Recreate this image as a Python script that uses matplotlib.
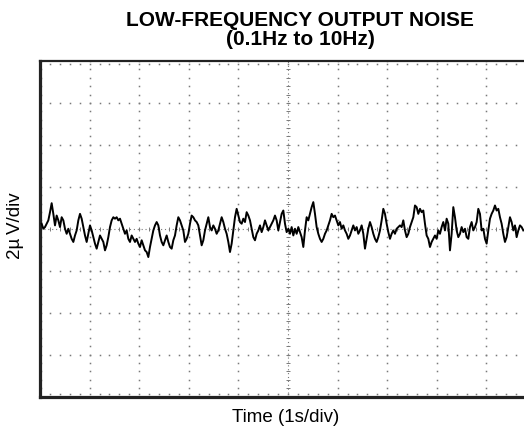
import numpy as np
import matplotlib
matplotlib.use('Agg')
import matplotlib.pyplot as plt

plt.rcParams['font.family'] = ['Liberation Sans', 'DejaVu Sans']

# noise trace, in uV, one sample every ~0.034 s
noise_uV = [
    # 0 - 2.2 s
    0.24, 0.00, 0.08, 0.24, 0.40, 0.79, 1.22, 0.71, 0.16, 0.63,
    0.40, 0.08, 0.55, 0.40, 0.00, -0.24, 0.00, -0.24, -0.48, -0.63,
    -0.32, -0.08, 0.40, 0.71, 0.48, 0.08, -0.32, -0.63, -0.24, 0.16,
    -0.08, -0.40, -0.71, -0.95, -0.63, -0.32, -0.48, -0.63, -1.03, -0.79,
    -0.40, 0.08, 0.40, 0.55, 0.48, 0.55, 0.40, 0.48, 0.24, 0.00,
    -0.24, -0.08, -0.48, -0.63, -0.32, -0.48, -0.63, -0.48, -0.71, -0.87,
    -0.55, -0.79, -1.03, -1.11, -1.35,
    # 2.2 - 4.8 s
    -0.87, -0.48, -0.08, 0.16, 0.32, 0.16, -0.32, -0.63, -0.79, -0.55,
    -0.32, -0.63, -0.87, -0.95, -0.55, -0.32, 0.16, 0.55, 0.40, 0.16,
    -0.08, -0.63, -0.48, -0.24, 0.24, 0.63, 0.55, 0.40, 0.32, 0.16,
    -0.32, -0.79, -0.55, -0.08, 0.24, 0.55, 0.08, -0.08, 0.16, 0.00,
    -0.24, -0.08, 0.24, 0.55, 0.32, 0.00, -0.24, -0.63, -1.11, -0.71,
    -0.08, 0.55, 0.95, 0.63, 0.32, 0.24, 0.48, 0.32, 0.79, 0.63,
    0.40, 0.00, -0.40, -0.55, -0.24, -0.08, 0.16, -0.16, 0.08, 0.40,
    0.16, -0.08, 0.08, 0.24, 0.40, 0.63, 0.40, -0.08,
    # 4.8 - 7.2 s
    0.32, 0.71, 0.87, 0.24, -0.16, 0.00, -0.24, 0.08, -0.32, 0.00,
    -0.24, 0.08, -0.16, -0.40, -0.87, -0.08, 0.55, 0.40, 0.71, 1.03,
    1.27, 0.71, 0.08, -0.24, -0.48, -0.63, -0.48, -0.24, -0.08, 0.16,
    0.40, 0.71, 0.55, 0.63, 0.40, 0.16, 0.32, 0.00, 0.16, -0.08,
    -0.24, -0.48, -0.32, -0.08, 0.16, -0.08, 0.08, -0.24, -0.08, 0.16,
    -0.24, -0.95, -0.48, 0.00, 0.32, 0.08, -0.24, -0.48, -0.63, -0.40,
    -0.08, 0.40, 0.95, 0.71, 0.24, -0.16, -0.48, -0.24, -0.08, -0.24,
    0.00, 0.08,
    # 7.2 - 9.75 s
    0.16, 0.08, 0.40, -0.08, -0.40, -0.24, 0.08, 0.32, 0.55, 1.11,
    1.03, 0.71, 0.95, 0.79, 0.87, 0.24, -0.32, -0.48, -0.87, -0.63,
    -0.48, -0.32, -0.48, -0.08, -0.24, 0.08, 0.32, -0.08, 0.48, 0.24,
    -1.03, -0.24, 1.03, 0.55, -0.08, -0.40, -0.24, 0.08, -0.16, 0.00,
    -0.40, -0.48, 0.08, 0.32, -0.08, 0.08, 0.32, 0.95, 0.71, -0.08,
    0.00, -0.48, -0.71, -0.08, 0.48, 0.71, 0.87, 1.11, 0.87, 0.95,
    0.55, 0.24, -0.24, -0.63, -0.40, 0.08, 0.55, 0.32, -0.08, 0.16,
    -0.40, -0.08, 0.16, 0.08, -0.08,
]
sample_dt = 0.0336  # s
t = np.arange(1, len(noise_uV) + 1) * sample_dt

x_div = 1.0   # 1 s/div
y_div = 2.0   # 2 uV/div

fig = plt.figure(figsize=(5.24, 4.29), dpi=100)
# right edge of the screen falls off the picture, like the original
ax = fig.add_axes([40 / 524, 32.5 / 429, 496 / 524, 335.5 / 429])
ax.set_xlim(0, 10 * x_div)
ax.set_ylim(-4 * y_div, 4 * y_div)
ax.set_xticks([])
ax.set_yticks([])
for s in ['left', 'bottom']:
    ax.spines[s].set_linewidth(2.3)
ax.spines['top'].set_linewidth(1.6)
ax.spines['right'].set_visible(False)
for s in ax.spines.values():
    s.set_color('#222222')

# graticule: dotted lines, dots every 1/5 division
gcol = '#7a7a7a'
xs_minor = np.arange(0, 10 * x_div + 1e-9, x_div / 5)
ys_minor = np.arange(-4 * y_div, 4 * y_div + 1e-9, y_div / 5)
for k in range(-3, 4):
    if k == 0:
        continue
    ax.plot(xs_minor, np.full(len(xs_minor), k * y_div), ls='none',
            marker='s', ms=1.1, mec='none', mfc=gcol, zorder=1)
for k in range(1, 10):
    if k == 5:
        continue
    ax.plot(np.full(len(ys_minor), k * x_div), ys_minor, ls='none',
            marker='s', ms=1.1, mec='none', mfc=gcol, zorder=1)
# minor dots along the frame
ax.plot(xs_minor, np.full(len(xs_minor), 4 * y_div - 0.12), ls='none',
        marker='s', ms=1.1, mec='none', mfc=gcol, zorder=1)
ax.plot(np.full(len(ys_minor), 0.03), ys_minor, ls='none',
        marker='s', ms=1.1, mec='none', mfc=gcol, zorder=1)
ax.plot(xs_minor, np.full(len(xs_minor), -4 * y_div + 0.12), ls='none',
        marker='s', ms=1.1, mec='none', mfc=gcol, zorder=1)

# centre axes, finer dots plus tick marks
ax.axhline(0, color=gcol, lw=0.8, ls=(0, (1, 2.5)), zorder=1)
ax.axvline(5 * x_div, color=gcol, lw=0.8, ls=(0, (1, 2.5)), zorder=1)
ax.plot(xs_minor, np.zeros(len(xs_minor)), ls='none', marker='|',
        ms=3, mew=0.7, color=gcol, zorder=1)
ax.plot(np.full(len(ys_minor), 5 * x_div), ys_minor, ls='none', marker='_',
        ms=3, mew=0.7, color=gcol, zorder=1)

ax.plot(t, noise_uV, color='black', lw=1.4, zorder=3)

fig.text(300 / 524, 1 - 30 / 429, 'LOW-FREQUENCY OUTPUT NOISE\n(0.1Hz to 10Hz)',
         ha='center', va='center', fontsize=15, fontweight='bold',
         linespacing=1.0)
fig.text(15 / 524, 1 - 226 / 429, '2µ\u2009V/div', rotation=90, ha='center',
         va='center', fontsize=13.5)
fig.text(286 / 524, 1 - 417 / 429, 'Time (1s/div)', ha='center', va='center',
         fontsize=13.5)

fig.savefig('out.png', dpi=100)
